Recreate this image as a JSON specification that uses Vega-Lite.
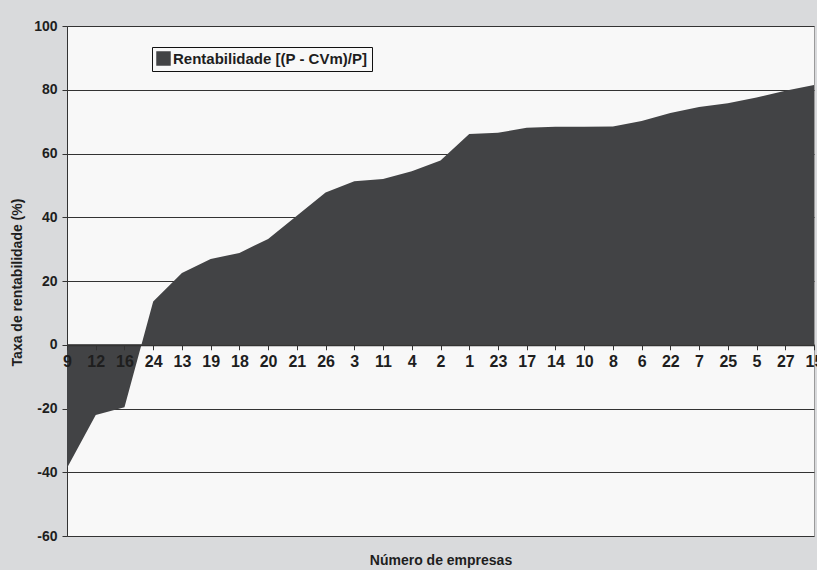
{
  "$schema": "https://vega.github.io/schema/vega-lite/v6.json",
  "width": 747,
  "height": 510,
  "autosize": {"type": "none"},
  "padding": {"left": 67, "top": 26, "right": 3, "bottom": 34},
  "background": "#d9dadc",
  "config": {
    "view": {"fill": "#f8f8f8", "stroke": "#9a9a9a", "strokeWidth": 1},
    "font": "Liberation Sans"
  },
  "data": {
    "values": [
      {"empresa": "9", "taxa": -38.7, "serie": "Rentabilidade [(P - CVm)/P]"},
      {"empresa": "12", "taxa": -22.0, "serie": "Rentabilidade [(P - CVm)/P]"},
      {"empresa": "16", "taxa": -19.6, "serie": "Rentabilidade [(P - CVm)/P]"},
      {"empresa": "24", "taxa": 13.6, "serie": "Rentabilidade [(P - CVm)/P]"},
      {"empresa": "13", "taxa": 22.5, "serie": "Rentabilidade [(P - CVm)/P]"},
      {"empresa": "19", "taxa": 26.9, "serie": "Rentabilidade [(P - CVm)/P]"},
      {"empresa": "18", "taxa": 28.8, "serie": "Rentabilidade [(P - CVm)/P]"},
      {"empresa": "20", "taxa": 33.2, "serie": "Rentabilidade [(P - CVm)/P]"},
      {"empresa": "21", "taxa": 40.5, "serie": "Rentabilidade [(P - CVm)/P]"},
      {"empresa": "26", "taxa": 47.8, "serie": "Rentabilidade [(P - CVm)/P]"},
      {"empresa": "3", "taxa": 51.3, "serie": "Rentabilidade [(P - CVm)/P]"},
      {"empresa": "11", "taxa": 52.0, "serie": "Rentabilidade [(P - CVm)/P]"},
      {"empresa": "4", "taxa": 54.4, "serie": "Rentabilidade [(P - CVm)/P]"},
      {"empresa": "2", "taxa": 57.8, "serie": "Rentabilidade [(P - CVm)/P]"},
      {"empresa": "1", "taxa": 66.1, "serie": "Rentabilidade [(P - CVm)/P]"},
      {"empresa": "23", "taxa": 66.5, "serie": "Rentabilidade [(P - CVm)/P]"},
      {"empresa": "17", "taxa": 68.1, "serie": "Rentabilidade [(P - CVm)/P]"},
      {"empresa": "14", "taxa": 68.4, "serie": "Rentabilidade [(P - CVm)/P]"},
      {"empresa": "10", "taxa": 68.4, "serie": "Rentabilidade [(P - CVm)/P]"},
      {"empresa": "8", "taxa": 68.5, "serie": "Rentabilidade [(P - CVm)/P]"},
      {"empresa": "6", "taxa": 70.2, "serie": "Rentabilidade [(P - CVm)/P]"},
      {"empresa": "22", "taxa": 72.7, "serie": "Rentabilidade [(P - CVm)/P]"},
      {"empresa": "7", "taxa": 74.6, "serie": "Rentabilidade [(P - CVm)/P]"},
      {"empresa": "25", "taxa": 75.8, "serie": "Rentabilidade [(P - CVm)/P]"},
      {"empresa": "5", "taxa": 77.6, "serie": "Rentabilidade [(P - CVm)/P]"},
      {"empresa": "27", "taxa": 79.7, "serie": "Rentabilidade [(P - CVm)/P]"},
      {"empresa": "15", "taxa": 81.5, "serie": "Rentabilidade [(P - CVm)/P]"}
    ]
  },
  "mark": {"type": "area", "strokeWidth": 0},
  "encoding": {
    "x": {
      "field": "empresa",
      "type": "nominal",
      "sort": null,
      "scale": {"type": "point", "padding": 0},
      "axis": {
        "orient": "bottom",
        "offset": -191.25,
        "zindex": 1,
        "grid": false,
        "domainColor": "#333333",
        "domainWidth": 2,
        "tickColor": "#333333",
        "tickSize": 5,
        "labelAngle": 0,
        "labelOverlap": false,
        "labelFontSize": 16,
        "labelFontWeight": "bold",
        "labelColor": "#1e1e1e",
        "labelPadding": 4,
        "title": "Número de empresas",
        "titleFontSize": 14,
        "titleFontWeight": "bold",
        "titleColor": "#1e1e1e",
        "titleY": 220,
        "titleBaseline": "alphabetic"
      }
    },
    "y": {
      "field": "taxa",
      "type": "quantitative",
      "stack": null,
      "scale": {"domain": [-60, 100], "nice": false, "zero": false},
      "axis": {
        "values": [-60, -40, -20, 0, 20, 40, 60, 80, 100],
        "labelExpr": "'' + datum.value",
        "grid": true,
        "gridColor": "#333333",
        "gridWidth": 1,
        "domainColor": "#333333",
        "tickColor": "#333333",
        "tickSize": 5,
        "labelFontSize": 14,
        "labelFontWeight": "bold",
        "labelColor": "#1e1e1e",
        "labelPadding": 5,
        "title": "Taxa de rentabilidade (%)",
        "titleFontSize": 14,
        "titleFontWeight": "bold",
        "titleColor": "#1e1e1e",
        "titleX": -50,
        "titleY": 256,
        "titleBaseline": "middle"
      }
    },
    "color": {
      "field": "serie",
      "type": "nominal",
      "scale": {"range": ["#424345"]},
      "legend": {
        "orient": "none",
        "legendX": 85,
        "legendY": 21,
        "title": null,
        "fillColor": "#f8f8f8",
        "strokeColor": "#111111",
        "padding": 4,
        "symbolType": "square",
        "symbolSize": 210,
        "symbolStrokeWidth": 0,
        "labelFontSize": 15,
        "labelFontWeight": "bold",
        "labelColor": "#1e1e1e",
        "labelOffset": 2,
        "labelLimit": 500
      }
    }
  }
}
